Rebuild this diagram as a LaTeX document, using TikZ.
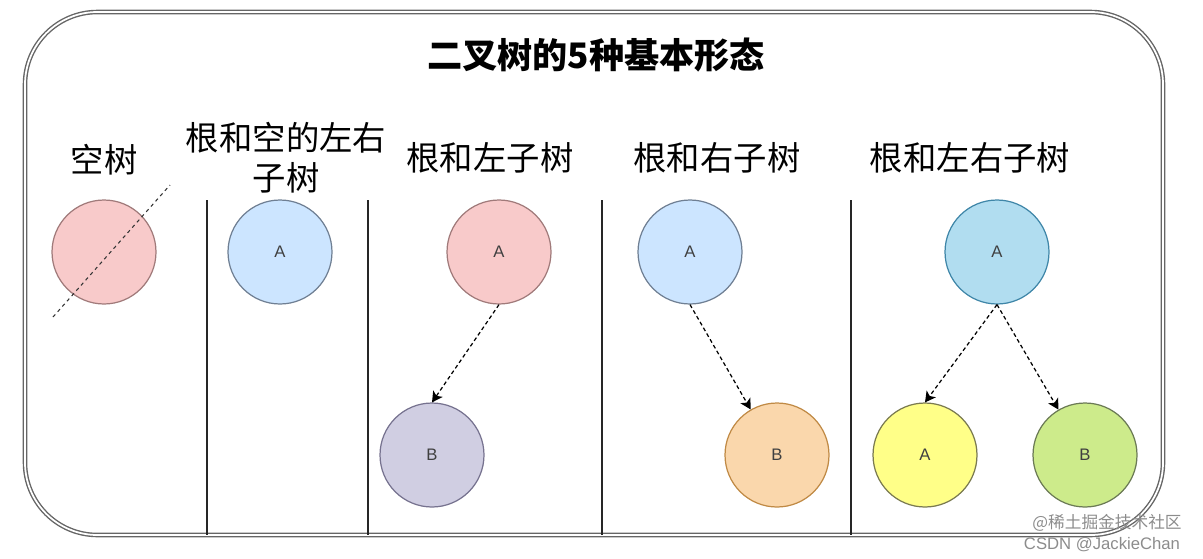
\documentclass[tikz,border=0pt]{standalone}
\usepackage{fontspec}
\setmainfont{Liberation Sans}
\newfontfamily\cjk{Noto Sans CJK SC}
\usetikzlibrary{arrows.meta, positioning}

% Colores de los nodos
\definecolor{rosa}{HTML}{F8CACA}
\definecolor{rosaborde}{HTML}{A07A7A}
\definecolor{celeste}{HTML}{CCE5FF}
\definecolor{celesteborde}{HTML}{6F7F93}
\definecolor{lila}{HTML}{D0CEE2}
\definecolor{lilaborde}{HTML}{76728F}
\definecolor{naranja}{HTML}{FAD7AC}
\definecolor{naranjaborde}{HTML}{C08A45}
\definecolor{azul}{HTML}{B1DDF0}
\definecolor{azulborde}{HTML}{3F86A8}
\definecolor{amarillo}{HTML}{FFFF88}
\definecolor{amarilloborde}{HTML}{7A7A50}
\definecolor{verde}{HTML}{CDEB8B}
\definecolor{verdeborde}{HTML}{6B7A55}

\tikzset{
  nodo/.style={circle, draw, line width=0.7pt, minimum size=2.08cm, inner sep=0pt,
    font=\fontsize{9.5}{11}\selectfont, text=black!75},
  etiqueta/.style={font=\cjk\fontsize{19}{22.8}\selectfont, align=center, inner sep=0pt},
  flecha/.style={dash pattern=on 2.2pt off 1.6pt, line width=0.7pt,
    -{Stealth[length=6pt,width=6.5pt,inset=1.5pt]}},
  separador/.style={line width=1.4pt, black!85},
}

\begin{document}
\begin{tikzpicture}[x=0.02cm, y=-0.02cm]
        \useasboundingbox (0,0) rectangle (1203,558);
        % Marco exterior
        \draw[black!60, line width=0.8pt, double=white, double distance=1pt, rounded corners=1.45cm]
          (25,12) rectangle (1163,535);
        % Titulo
        \node[etiqueta, font=\cjk\bfseries\fontsize{20}{24}\selectfont] (titulo) at (596,55) {二叉树的5种基本形态};
        % Separadores
        \foreach \x in {207,368,602,851}
          \draw[separador] (\x,200) -- (\x,535);
        % Textos de las columnas
        \node[etiqueta] (tvacio) at (104,160) {空树};
        \node[etiqueta] (traiz) at (286,158) {根和空的左右\\子树};
        \node[etiqueta] (tizq) at (490,158) {根和左子树};
        \node[etiqueta] (tder) at (717,158) {根和右子树};
        \node[etiqueta] (tambos) at (970,158) {根和左右子树};
        % Arbol vacio
        \node[nodo, fill=rosa, draw=rosaborde] (vacio) at (104,252) {};
        \coordinate (c1) at (53,317);
        \coordinate (c2) at (170,185);
        \draw[black!80, line width=0.6pt, dash pattern=on 2pt off 2pt] (c1) -- (c2);
        % Solo raiz
        \node[nodo, fill=celeste, draw=celesteborde] (raiz) at (280,252) {A};
        % Raiz y subarbol izquierdo
        \node[nodo, fill=rosa, draw=rosaborde] (izqA) at (499,252) {A};
        \node[nodo, fill=lila, draw=lilaborde] (izqB) at (432,455) {B};
        \draw[flecha] (izqA.south) -- (izqB.north);
        % Raiz y subarbol derecho
        \node[nodo, fill=celeste, draw=celesteborde] (derA) at (690,252) {A};
        \node[nodo, fill=naranja, draw=naranjaborde] (derB) at (777,455) {B};
        \draw[flecha] (derA.south) -- (derB);
        % Raiz y ambos subarboles
        \node[nodo, fill=azul, draw=azulborde] (ambA) at (997,252) {A};
        \node[nodo, fill=amarillo, draw=amarilloborde] (ambI) at (925,455) {A};
        \node[nodo, fill=verde, draw=verdeborde] (ambD) at (1085,455) {B};
        \draw[flecha] (ambA.south) -- (ambI.north);
        \draw[flecha] (ambA.south) -- (ambD);
        % Marca de agua
        \node[font=\cjk\fontsize{9.5}{11}\selectfont, text=black!45, inner sep=0pt] (marca1) at (1107,523) {@稀土掘金技术社区};
        \node[font=\fontsize{9.5}{11}\selectfont, text=black!45, inner sep=0pt] (marca2) at (1102,545) {CSDN @JackieChan};
    \end{tikzpicture}
\end{document}
